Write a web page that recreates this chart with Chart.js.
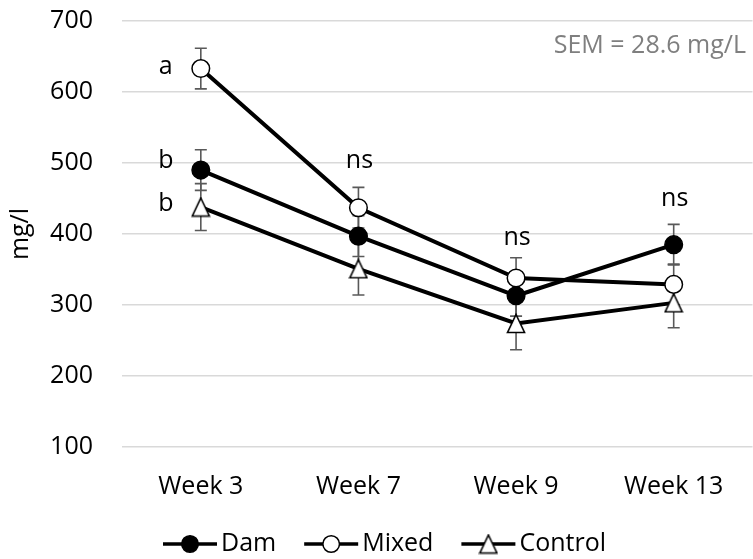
<!DOCTYPE html>
<html>
<head>
<meta charset="utf-8">
<script src="https://cdn.jsdelivr.net/npm/chart.js@4.4.1/dist/chart.umd.min.js"></script>
<style>
  html, body { margin: 0; padding: 0; background: #fff; overflow: hidden; }
  #wrap { position: relative; width: 763px; height: 559px; }
</style>
</head>
<body>
<div id="wrap"><canvas id="chart"></canvas></div>
<script>
const weeks = ['Week 3', 'Week 7', 'Week 9', 'Week 13'];
const dam = [490, 397, 313, 385];
const mixed = [633, 437, 338, 329];
const control = [438, 351, 274, 303];
const damErr = [28.6, 28.6, 28.6, 28.6];
const mixedErr = [28.6, 28.6, 28.6, 28.6];
const controlErr = [33, 37, 37, 35];
const yTicks = [100, 200, 300, 400, 500, 600, 700];

// letters / ns above the points: [week index, value, text]
const letterIdx = [0, 0, 0, 1, 2, 3];
const letterVal = [636, 503, 442, 503, 394, 449];
const letterText = ['a', 'b', 'b', 'ns', 'ns', 'ns'];
const semNote = 'SEM = 28.6 mg/L';

const FONT = "'Open Sans', sans-serif";

function triangleMarker(w, h) {
  const c = document.createElement('canvas');
  c.width = w + 3;
  c.height = h + 3;
  const g = c.getContext('2d');
  g.beginPath();
  g.moveTo(c.width / 2, 1.5);
  g.lineTo(w + 1.5, h + 1.5);
  g.lineTo(1.5, h + 1.5);
  g.closePath();
  g.fillStyle = '#fff';
  g.fill();
  g.lineWidth = 1.6;
  g.strokeStyle = '#000';
  g.stroke();
  return c;
}
const tri = triangleMarker(17, 18);

const errorBars = {
  id: 'errorBars',
  beforeDatasetsDraw(chart) {
    const ctx = chart.ctx;
    const y = chart.scales.y;
    ctx.save();
    ctx.strokeStyle = '#595959';
    ctx.lineWidth = 1.6;
    chart.data.datasets.forEach((ds, i) => {
      const meta = chart.getDatasetMeta(i);
      meta.data.forEach((pt, j) => {
        const v = ds.data[j];
        const e = ds.errors[j];
        const top = y.getPixelForValue(v + e);
        const bot = y.getPixelForValue(v - e);
        ctx.beginPath();
        ctx.moveTo(pt.x, top); ctx.lineTo(pt.x, bot);
        ctx.moveTo(pt.x - 6, top); ctx.lineTo(pt.x + 6, top);
        ctx.moveTo(pt.x - 6, bot); ctx.lineTo(pt.x + 6, bot);
        ctx.stroke();
      });
    });
    ctx.restore();
  }
};

const notes = {
  id: 'notes',
  afterDraw(chart) {
    const ctx = chart.ctx;
    const x = chart.scales.x, y = chart.scales.y;
    ctx.save();
    ctx.font = '25px ' + FONT;
    ctx.fillStyle = '#000';
    ctx.textBaseline = 'middle';
    ctx.textAlign = 'center';
    letterText.forEach((t, k) => {
      const px = x.getPixelForValue(letterIdx[k]);
      const py = y.getPixelForValue(letterVal[k]);
      ctx.fillText(t, t === 'ns' ? px + 1 : px - 35, py);
    });
    ctx.fillStyle = '#7f7f7f';
    ctx.textAlign = 'right';
    ctx.fillText(semNote, 746, 46);

    // legend: line with marker, then the name
    let lx = 163;
    const ly = 544;
    chart.data.datasets.forEach(ds => {
      ctx.strokeStyle = '#000';
      ctx.lineWidth = 3.5;
      ctx.beginPath();
      ctx.moveTo(lx, ly); ctx.lineTo(lx + 54, ly);
      ctx.stroke();
      ctx.fillStyle = ds.pointBackgroundColor;
      ctx.strokeStyle = '#000';
      ctx.lineWidth = ds.pointBorderWidth;
      Chart.helpers.drawPoint(ctx, {
        pointStyle: ds.pointStyle, radius: ds.pointRadius - 0.5, rotation: 0, borderWidth: ds.pointBorderWidth
      }, lx + 27, ly);
      ctx.fillStyle = '#000';
      ctx.textAlign = 'left';
      ctx.fillText(ds.label, lx + 58, ly);
      lx += 58 + ctx.measureText(ds.label).width + 28;
    });
    ctx.restore();
  }
};

new Chart(document.getElementById('chart'), {
  type: 'line',
  data: {
    labels: weeks,
    datasets: [
      { label: 'Dam', data: dam, errors: damErr, borderColor: '#000', borderWidth: 4,
        pointStyle: 'circle', pointRadius: 8.8, pointBackgroundColor: '#000',
        pointBorderColor: '#000', pointBorderWidth: 1.5 },
      { label: 'Mixed', data: mixed, errors: mixedErr, borderColor: '#000', borderWidth: 4,
        pointStyle: 'circle', pointRadius: 8.8, pointBackgroundColor: '#fff',
        pointBorderColor: '#000', pointBorderWidth: 1.5 },
      { label: 'Control', data: control, errors: controlErr, borderColor: '#000', borderWidth: 4,
        pointStyle: tri, pointRadius: 9, pointBackgroundColor: '#fff',
        pointBorderColor: '#000', pointBorderWidth: 1.5 }
    ]
  },
  options: {
    responsive: true,
    maintainAspectRatio: false,
    animation: false,
    layout: { padding: { top: 21, right: 1, bottom: 50, left: 0 } },
    plugins: { legend: { display: false }, tooltip: { enabled: false } },
    scales: {
      x: {
        offset: true,
        grid: { display: false },
        border: { display: false },
        ticks: { color: '#000', font: { family: FONT, size: 25 }, padding: 17 },
        afterFit(s) { s.height = 62; s.paddingLeft = 0; s.paddingRight = 0; }
      },
      y: {
        min: 100, max: 700,
        afterBuildTicks(s) { s.ticks = yTicks.map(v => ({ value: v })); },
        grid: { color: '#d9d9d9', lineWidth: 1.5, drawTicks: false },
        border: { display: false },
        ticks: { color: '#000', font: { family: FONT, size: 25 }, padding: 29 },
        title: { display: true, text: 'mg/l', color: '#000', font: { family: FONT, size: 25 }, padding: { top: 6, bottom: 0 } },
        afterFit(s) { s.width = 122; s.paddingTop = 0; s.paddingBottom = 0; }
      }
    }
  },
  plugins: [errorBars, notes]
});
</script>
</body>
</html>
